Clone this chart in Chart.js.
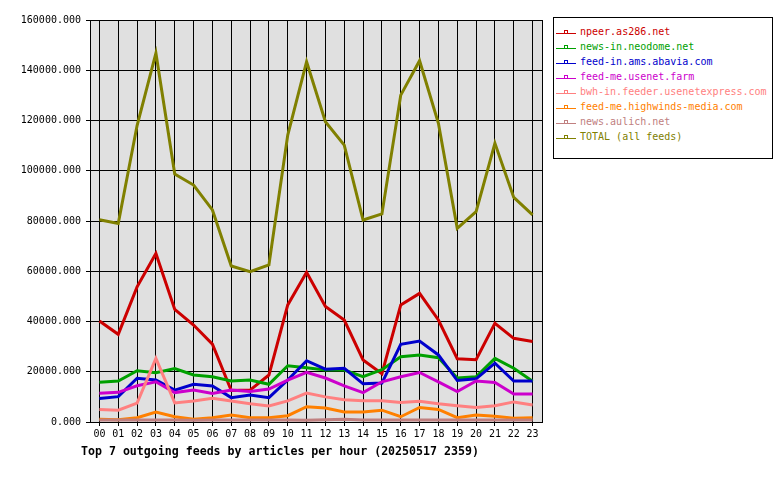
<!DOCTYPE html>
<html>
<head>
<meta charset="utf-8">
<script src="https://cdn.jsdelivr.net/npm/chart.js@4.4.1/dist/chart.umd.min.js"></script>
<style>
  body { margin:0; background:#fff; }
  #wrap { position:relative; width:780px; height:480px; }
  #legend { position:absolute; left:553px; top:17px; width:218px; height:132px; border:1px solid #000; background:#fff; padding-top:8px; box-sizing:content-box; }
  #legend .row { position:relative; height:15px; line-height:15px; padding-left:26px; font:10px "DejaVu Sans Mono", monospace; white-space:nowrap; }
  #legend .smp { position:absolute; left:2px; top:7px; width:20px; height:1px; }
  #legend .smp i { position:absolute; left:8px; top:-3px; width:2px; height:2px; border:1px solid; background:#fff; }
</style>
</head>
<body>
<div id="wrap">
  <canvas id="c" width="780" height="480"></canvas>
  <div id="legend"></div>
</div>
<script>
// hours of the day
const hours = ['00','01','02','03','04','05','06','07','08','09','10','11',
               '12','13','14','15','16','17','18','19','20','21','22','23'];

// articles per hour, per feed
const npeer    = [40200,34900,53800,67100,44800,38600,31000,12500,12700,18700,46600,59600,
                  46000,40600,24700,19200,46600,51200,40600,25200,24800,39300,33300,32000];
const neodome  = [15800,16300,20400,19600,21300,18700,18000,16300,16700,15000,22400,21600,
                  20700,20700,18000,20800,26000,26700,25600,17500,18000,25300,21400,16200];
const abavia   = [9400,10100,17400,16700,12700,15000,14300,9700,10700,9700,16700,24400,
                  21000,21400,15200,15500,30900,32200,26700,16500,17200,23400,16300,16300];
const usenetFarm = [11400,11800,14400,16000,11700,12700,11400,12700,12100,13100,16700,19800,
                  17500,14400,11700,16000,18000,19700,16000,12100,16300,15700,11100,11100];
const usenetExpress = [5000,4700,7500,25300,7600,8400,9400,8400,7300,6400,8400,11500,
                  10000,8900,8500,8500,7800,8300,7300,6500,5800,6500,8000,6800];
const highwinds = [1100,900,1700,4000,2100,1100,1700,2800,1700,1700,2500,6100,
                  5600,4000,4000,4700,2100,5800,5000,1700,2800,2300,1500,1700];
const aulich   = [800,800,800,800,800,700,800,800,800,800,800,700,
                  900,1100,800,800,800,800,800,800,800,800,800,800];
const total    = [80500,79000,118000,146800,98700,94300,84400,62100,59800,62500,114200,143400,
                  119500,110200,80400,82800,130100,143800,118900,77100,83700,110900,89400,82400];

const feedNames = ['npeer.as286.net','news-in.neodome.net','feed-in.ams.abavia.com','feed-me.usenet.farm',
                   'bwh-in.feeder.usenetexpress.com','feed-me.highwinds-media.com','news.aulich.net','TOTAL (all feeds)'];
const feedColors = ['#CC0000','#00A000','#0000CC','#CC00CC','#FF8080','#FF8000','#C08080','#808000'];
const feedValues = [npeer, neodome, abavia, usenetFarm, usenetExpress, highwinds, aulich, total];

const yTicks = { min: 0, max: 160000, step: 20000 };
const titleText = 'Top 7 outgoing feeds by articles per hour (20250517 2359)';

const MONO = '"DejaVu Sans Mono", monospace';

// legend (html, coloured text)
document.getElementById('legend').innerHTML = feedNames.map((n,i)=>`
  <div class="row" style="color:${feedColors[i]}"><span class="smp" style="background:${feedColors[i]}"><i style="border-color:${feedColors[i]}"></i></span>${n}</div>`).join('');

const plotFrame = {
  id: 'plotFrame',
  beforeDraw(chart) {
    const { ctx, chartArea: a } = chart;
    ctx.save();
    ctx.fillStyle = '#E0E0E0';
    ctx.fillRect(a.left, a.top, a.right - a.left, a.bottom - a.top);
    ctx.restore();
  },
  afterDraw(chart) {
    const { ctx, chartArea: a } = chart;
    ctx.save();
    ctx.strokeStyle = '#000';
    ctx.lineWidth = 1;
    ctx.strokeRect(Math.round(a.left) + 0.5, Math.round(a.top) + 0.5,
                   Math.round(a.right - a.left), Math.round(a.bottom - a.top));
    ctx.fillStyle = '#000';
    ctx.font = 'bold 11.6px ' + MONO;
    ctx.textBaseline = 'middle';
    ctx.fillText(titleText, 81, 452);
    ctx.restore();
  }
};

new Chart(document.getElementById('c').getContext('2d'), {
  type: 'line',
  data: {
    labels: hours,
    datasets: feedValues.map((v,i)=>({
      label: feedNames[i], data: v,
      borderColor: feedColors[i], backgroundColor: feedColors[i],
      borderWidth: 3, pointRadius: 0, tension: 0, fill: false,
      order: feedValues.length - i
    }))
  },
  options: {
    responsive: false, animation: false, devicePixelRatio: 1,
    layout: { padding: { top: 20, right: 238, left: 0, bottom: 0 } },
    plugins: { legend: { display: false }, tooltip: { enabled: false }, title: { display: false } },
    scales: {
      x: {
        offset: true,
        grid: { color: '#000', lineWidth: 1, offset: false, tickLength: 4, tickColor: '#000' },
        border: { display: true, color: '#000' },
        ticks: { color: '#000', font: { family: MONO, size: 10 }, padding: 2, maxRotation: 0, autoSkip: false },
        afterFit(s) { s.height = 58; }
      },
      y: {
        min: yTicks.min, max: yTicks.max,
        grid: { color: '#000', lineWidth: 1, tickLength: 4, tickColor: '#000' },
        border: { display: true, color: '#000' },
        ticks: { stepSize: yTicks.step, color: '#000', font: { family: MONO, size: 10 }, padding: 5,
                 callback: v => Number(v).toFixed(3) },
        afterFit(s) { s.width = 90; }
      }
    }
  },
  plugins: [plotFrame]
});
</script>
</body>
</html>
